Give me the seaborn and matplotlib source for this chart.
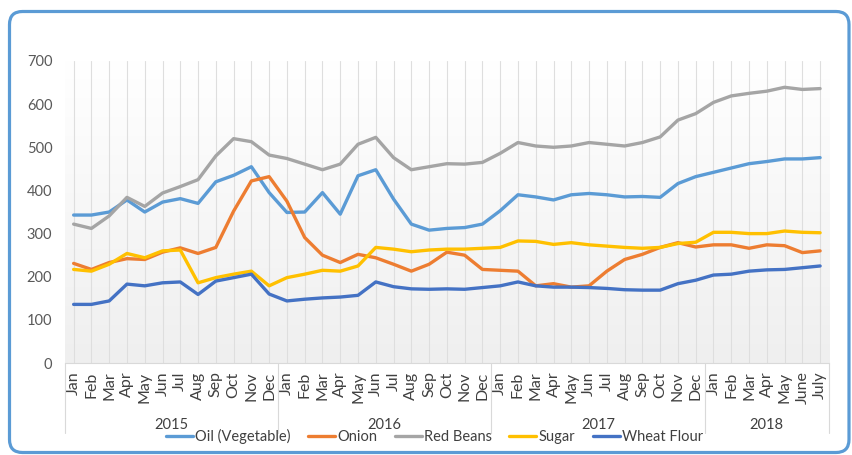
import numpy as np
import pandas as pd
import matplotlib
matplotlib.use("Agg")
import matplotlib.pyplot as plt
import seaborn as sns
from matplotlib.colors import LinearSegmentedColormap
from matplotlib.patches import FancyBboxPatch
from matplotlib.transforms import blended_transform_factory, IdentityTransform

# --- Data ---
months = (["Jan", "Feb", "Mar", "Apr", "May", "Jun", "Jul", "Aug", "Sep", "Oct", "Nov", "Dec"] * 3
          + ["Jan", "Feb", "Mar", "Apr", "May", "June", "July"])
years = ["2015", "2016", "2017", "2018"]
year_lengths = [12, 12, 12, 7]

oil = [343, 343, 350, 378, 350, 373, 381, 370, 420, 435, 455, 395,
       349, 350, 395, 345, 434, 448, 380, 322, 308, 312, 314, 322,
       353, 390, 385, 378, 390, 393, 390, 385, 386, 384, 416, 432,
       442, 452, 462, 467, 473, 473, 476]
onion = [231, 217, 233, 242, 240, 257, 267, 254, 268, 352, 422, 432,
         375, 291, 250, 233, 252, 244, 229, 213, 229, 257, 250, 217,
         215, 213, 179, 184, 176, 179, 213, 240, 252, 268, 279, 269,
         274, 274, 266, 274, 272, 256, 260]
red_beans = [322, 312, 341, 384, 363, 394, 409, 425, 480, 520, 513, 482,
             474, 461, 448, 461, 507, 523, 476, 448, 455, 462, 461, 465,
             486, 511, 503, 500, 503, 511, 507, 503, 511, 524, 563, 578,
             604, 619, 625, 630, 639, 634, 636]
sugar = [217, 213, 229, 254, 244, 260, 262, 186, 198, 206, 213, 179,
         198, 206, 215, 213, 225, 268, 264, 258, 262, 264, 264, 266,
         268, 283, 282, 275, 279, 274, 271, 268, 266, 268, 277, 280,
         303, 303, 300, 300, 306, 303, 302]
wheat_flour = [136, 136, 144, 183, 179, 186, 188, 159, 190, 198, 206, 160,
               144, 148, 151, 153, 157, 188, 177, 172, 171, 172, 171, 175,
               179, 188, 179, 176, 176, 175, 173, 170, 169, 169, 184, 192,
               204, 206, 213, 216, 217, 221, 225]

names = ["Oil (Vegetable)", "Onion", "Red Beans", "Sugar", "Wheat Flour"]
values = [oil, onion, red_beans, sugar, wheat_flour]
colors = ["#5b9bd5", "#ed7d31", "#a5a5a5", "#ffc000", "#4472c4"]

df = pd.concat([pd.DataFrame({"idx": range(len(v)), "price": v, "item": n})
                for n, v in zip(names, values)], ignore_index=True)

# --- Style ---
sns.set_theme(style="white")
plt.rcParams["font.family"] = ["Lato", "DejaVu Sans"]

fig = plt.figure(figsize=(8.52, 4.55), dpi=100)
ax = fig.add_axes([0.076, 0.202, 0.897, 0.664])

n = len(months)
x0, x1 = -0.5, n - 0.5

# soft gray gradient behind the plot area
bg = LinearSegmentedColormap.from_list("bg", ["#efefef", "#f7f7f7", "#ffffff"])
ax.imshow(np.linspace(0, 1, 256).reshape(-1, 1), extent=[x0, x1, 0, 700],
          origin="lower", cmap=bg, aspect="auto", zorder=0)

sns.lineplot(data=df, x="idx", y="price", hue="item", hue_order=names,
             palette=colors, lw=2.4, ax=ax, zorder=3)
for line in ax.get_lines():
    line.set_solid_capstyle("round")
    line.set_solid_joinstyle("round")

ax.set_xlim(x0, x1)
ax.set_ylim(0, 700)
ax.set_xticks(range(n))
ax.set_xticklabels(months, rotation=90, fontsize=11.5, color="#404040")
ax.set_yticks(range(0, 701, 100))
ax.tick_params(axis="y", length=0, pad=9, labelsize=10.5, labelcolor="#595959")
ax.tick_params(axis="x", length=0, pad=6)
ax.set_xlabel("")
ax.set_ylabel("")
ax.grid(axis="x", color="#dedede", lw=0.8)
ax.grid(axis="y", visible=False)
ax.set_axisbelow(True)
for side in ["top", "right", "left"]:
    ax.spines[side].set_visible(False)
ax.spines["bottom"].set_color("#d9d9d9")
ax.spines["bottom"].set_linewidth(0.8)

# --- Year groups under the month labels ---
trans = blended_transform_factory(ax.transData, ax.transAxes)
bounds = np.concatenate([[0], np.cumsum(year_lengths)]) - 0.5
for b in bounds:
    ax.plot([b, b], [0, -0.232], transform=trans, color="#d9d9d9", lw=0.8, clip_on=False)
for yr, a, b in zip(years, bounds[:-1], bounds[1:]):
    ax.text((a + b) / 2, -0.205, yr, transform=trans, ha="center", va="center",
            fontsize=10.5, color="#404040")

# --- Legend along the bottom ---
handles, labels = ax.get_legend_handles_labels()
ax.get_legend().remove()
leg = fig.legend(handles, labels, loc="center", bbox_to_anchor=(0.51, 0.04), ncol=5,
                 frameon=False, fontsize=10.5, handlelength=1.85, handletextpad=0.15,
                 columnspacing=1.2)
for t in leg.get_texts():
    t.set_color("#404040")

# --- Rounded blue frame ---
frame = FancyBboxPatch((9.5, 2.5), 839.5, 441, boxstyle="round,pad=0,rounding_size=13",
                       transform=IdentityTransform(), fill=False, ec="#5b9bd5", lw=2.3)
fig.add_artist(frame)

fig.savefig("out.png", dpi=100)
